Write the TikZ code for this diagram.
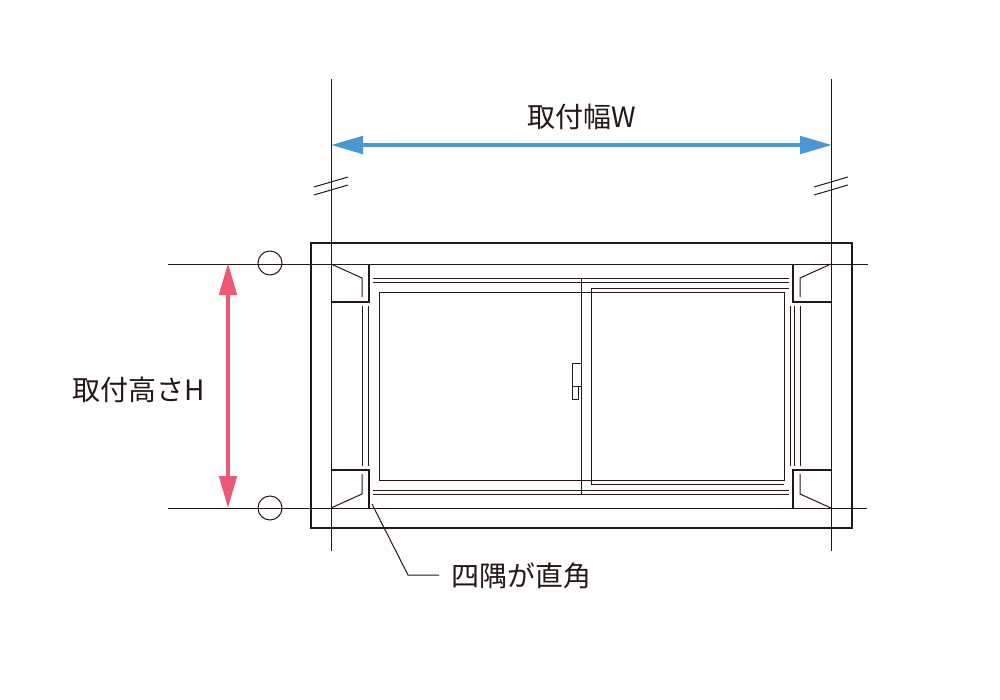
\documentclass[tikz,border=0pt]{standalone}
\usepackage{xcolor}
\usepackage{fontspec}
\setmainfont{Noto Sans CJK JP}
\usetikzlibrary{arrows.meta, positioning}
\definecolor{inkdark}{HTML}{231815}
\definecolor{widthblue}{HTML}{4A98D3}
\definecolor{heightpink}{HTML}{EE5877}
\tikzstyle{thin line} = [draw=inkdark, line width=0.75pt]
\tikzstyle{frame line} = [draw=inkdark, line width=1.4pt]
\tikzstyle{dim arrow} = [line width=3pt, {Triangle[length=24pt,width=13pt]}-{Triangle[length=24pt,width=13pt]}]

\begin{document}
\begin{tikzpicture}[x=0.75pt, y=-0.75pt,
            label text/.style={text=inkdark, font=\fontsize{21}{25}\selectfont, inner sep=0pt, anchor=west},
            mark circle/.style={circle, draw=inkdark, line width=0.75pt, minimum size=18pt, inner sep=0pt}]
            \useasboundingbox (0,0) rectangle (1000,700);

            % Labels
            \node[label text] (widthlabel) at (527,116.5) {取付幅W};
            \node[label text] (heightlabel) at (72,389.5) {取付高さH};
            \node[label text] (cornerlabel) at (451,575.5) {四隅が直角};

            % Reference lines
            \draw[thin line] (331,79) -- (331,551);
            \draw[thin line] (831,79) -- (831,551);
            \draw[thin line] (168,264) -- (868,264);
            \draw[thin line] (168,508.5) -- (867,508.5);

            % Break marks
            \draw[thin line] (314,187) -- (348,177);
            \draw[thin line] (314,195) -- (348,185);
            \draw[thin line] (814,187) -- (848,177);
            \draw[thin line] (814,195) -- (848,185);

            % Circles
            \node[mark circle] (topmark) at (270,263) {};
            \node[mark circle] (bottommark) at (270,508) {};

            % Outer frame
            \draw[frame line] (311,243) rectangle (852,528);

            % Corner blocks
            \draw[frame line] (369,264) -- (369,302) -- (331,302);
            \draw[frame line] (331,470) -- (369,470) -- (369,508);
            \draw[frame line] (793,264) -- (793,302) -- (831,302);
            \draw[frame line] (793,508) -- (793,470) -- (831,470);

            % Corner bevels
            \draw[thin line] (331,264) -- (362,278) -- (362,297);
            \draw[thin line] (331,508) -- (362,494) -- (362,474);
            \draw[thin line] (831,264) -- (800,278) -- (800,297);
            \draw[thin line] (831,508) -- (800,494) -- (800,474);

            % Side rails
            \foreach \railx in {362,368,790,794,800}
                \draw[thin line] (\railx,306) -- (\railx,466);

            % Top and bottom rails
            \foreach \raily in {278,282,490,494}
                \draw[thin line] (373,\raily) -- (789,\raily);
            \draw[thin line] (591,288) -- (789,288);

            % Panes
            \draw[thin line] (379,292.5) rectangle (784,480);
            \draw[thin line] (591.5,288) -- (591.5,484) -- (784,484);
            \draw[thin line] (581,278) -- (581,494);

            % Handle
            \draw[thin line] (581,363) -- (572,363) -- (572,386) -- (581,386);
            \draw[thin line] (572,386) -- (572,399) -- (578,399) -- (578,386);

            % Dimension arrows
            \coordinate (widthstart) at (331,145);
            \coordinate (widthend) at (832,145);
            \coordinate (heightstart) at (228,263);
            \coordinate (heightend) at (228,508);
            \draw[dim arrow, draw=widthblue, fill=widthblue] (widthstart) -- (widthend);
            \draw[dim arrow, draw=heightpink, fill=heightpink] (heightstart) -- (heightend);

            % Leader
            \coordinate (leaderstart) at (372,504);
            \coordinate (leaderbend) at (408,575);
            \coordinate (leaderend) at (439,575);
            \draw[thin line] (leaderstart) -- (leaderbend) -- (leaderend);
        \end{tikzpicture}
\end{document}
